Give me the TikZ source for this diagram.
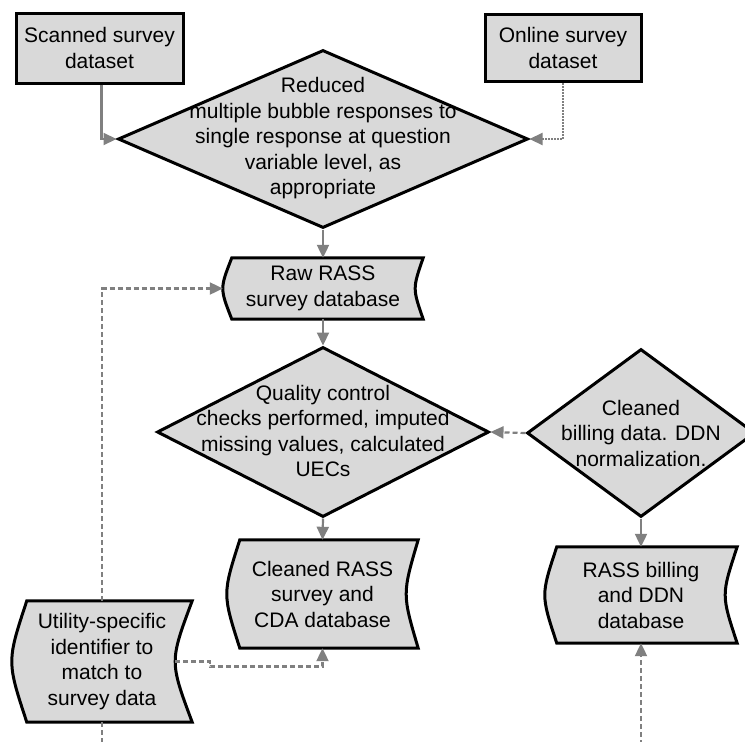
\documentclass[tikz,border=0pt]{standalone}
\usepackage{fontspec}
\setmainfont{Liberation Sans}
\usetikzlibrary{shapes.geometric,arrows.meta,backgrounds}

\definecolor{boxfill}{gray}{0.85}
\definecolor{linkgray}{gray}{0.5}

\tikzset{
  outline/.style={draw=black, line width=3pt, fill=boxfill, line join=miter},
  label/.style={align=center, inner sep=0pt, font=\fontsize{21}{25.5}\selectfont},
  procbox/.style={label, outline, rectangle, minimum width=#1},
  decision/.style={diamond, outline, inner sep=0pt},
  storebox/.style={label, rectangle, draw=none},
  link/.style={draw=linkgray, line width=2.2pt, -{Triangle[length=13pt,width=12pt]}},
  dashlink/.style={link, dash pattern=on 5pt off 3pt},
  dotlink/.style={link, dash pattern=on 2pt off 1pt},
}

% outline of a stored-data symbol around a node:
% #1 node name, #2 bulge of the left side, #3 inset of the right side
\newcommand\storedoutline[3]{%
  \begin{pgfonlayer}{background}
  \draw[outline] ([xshift=#2]#1.north west) -- (#1.north east)
    .. controls ([xshift=-4*#3/3]#1.east) .. (#1.south east)
    -- ([xshift=#2]#1.south west)
    .. controls ([xshift=-#2/3]#1.west) .. cycle;
  \end{pgfonlayer}}

\begin{document}
\begin{tikzpicture}[x=1pt, y=-1pt]
\useasboundingbox (0,0) rectangle (745,742);

% input datasets
\node[procbox=167, minimum height=70] (scanned) at (99.5,48) {Scanned survey\\dataset};
\node[procbox=156, minimum height=67] (online) at (563,48) {Online survey\\dataset};

% first decision
\node[decision, minimum width=410, minimum height=178] (d1) at (323,139) {};
\node[label] (d1text) at (323,138.5) {Reduced\\multiple bubble responses to\\single response at question\\variable level, as\\appropriate};

% raw survey database
\node[storebox, minimum width=200, minimum height=61] (raw) at (323,288.5) {Raw RASS\\survey database};
\storedoutline{raw}{9}{8}

% quality control decision
\node[decision, minimum width=332, minimum height=170] (d2) at (323,432) {};
\node[label] (d2text) at (323,431) {Quality control\\checks performed, imputed\\missing values, calculated\\UECs};

% billing decision (its right tip runs past the page edge)
\node[decision, minimum width=228, minimum height=168] (d3) at (641,433) {};
\node[label] (d3text) at (641,433) {Cleaned\\billing data. DDN\\normalization.};

% cleaned databases
\node[storebox, minimum width=191, minimum height=108] (clean) at (322.5,594) {Cleaned RASS\\survey and\\CDA database};
\storedoutline{clean}{13}{12}

\node[storebox, minimum width=192, minimum height=96] (billing) at (641,595) {RASS billing\\and DDN\\database};
\storedoutline{billing}{12}{12}

% utility identifier
\node[storebox, minimum width=180, minimum height=121] (util) at (102,661.5) {Utility-specific\\identifier to\\match to\\survey data};
\storedoutline{util}{15}{17}

% loose ends at the bottom edge
\coordinate (utilout) at (102,745);
\coordinate (billin) at (641,745);

% connectors
\draw[link] ([xshift=2pt]scanned.south) |- (d1.west);
\draw[dotlink] (online.south) |- (d1.east);
\draw[link] (d1.south) -- (raw.north);
\draw[link] (raw.south) -- (d2.north);
\draw[dashlink] (d3.west) -- (d2.east);
\draw[link] (d2.south) -- (clean.north);
\draw[link] (d3.south) -- (billing.north);
\draw[dashlink] (billin) -- (billing.south);
\draw[dashlink] (util.north) |- (raw.west);
\draw[dashlink, -] (util.south) -- (utilout);
\draw[dashlink] ([xshift=-17pt]util.east) -- ++(35,0) -- ++(0,5) -| (clean.south);
\end{tikzpicture}
\end{document}
